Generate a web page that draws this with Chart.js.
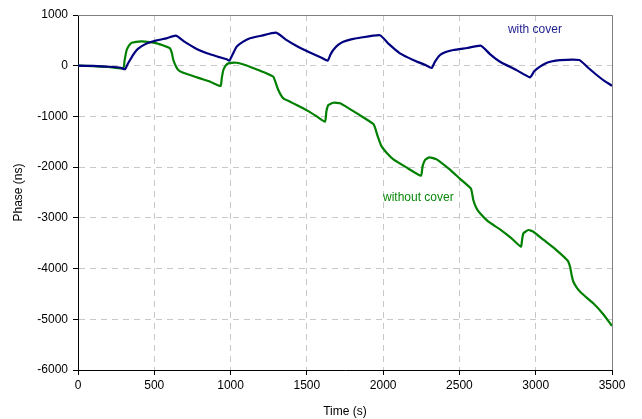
<!DOCTYPE html>
<html>
<head>
<meta charset="utf-8">
<script src="https://cdn.jsdelivr.net/npm/chart.js@4/dist/chart.umd.min.js"></script>
<style>
  html, body { margin: 0; padding: 0; background: #fff; }
  #wrap { width: 642px; height: 419px; }
</style>
</head>
<body>
<div id="wrap"><canvas id="c" width="642" height="419"></canvas></div>
<script>
// Phase drift over time, sensor with and without cover
const timeWith = [0,100,210,280,308,325,341,360,385,415,450,516,580,642,700,778,850,920,975,992,1010,1040,1080,1127,1200,1298,1360,1433,1520,1600,1636,1655,1673,1705,1739,1790,1848,1979,2040,2110,2200,2280,2318,2340,2373,2410,2460,2550,2641,2700,2766,2870,2963,2990,3028,3060,3094,3159,3286,3340,3400,3450,3500];
const phaseWith = [0,-5,-20,-40,-70,30,112,210,310,380,440,500,540,592,470,330,240,175,126,99,200,375,470,540,590,651,520,390,260,150,99,220,310,410,473,520,552,600,420,244,110,10,-45,80,211,270,310,350,394,230,79,-80,-229,-110,-20,40,79,112,112,-30,-183,-300,-394];

const timeWithout = [0,100,200,297,305,319,335,352,417,470,516,560,603,615,625,640,657,690,734,800,870,935,942,953,970,986,1040,1100,1160,1220,1280,1295,1313,1330,1346,1390,1433,1500,1560,1619,1628,1641,1674,1718,1780,1850,1936,1950,1958,1975,1991,2030,2067,2150,2248,2258,2274,2303,2351,2430,2504,2575,2582,2591,2610,2635,2690,2766,2840,2903,2910,2919,2952,2985,3050,3130,3210,3225,3235,3247,3270,3301,3377,3440,3500];
const phaseWithout = [0,-10,-25,-51,100,310,400,454,480,465,440,400,343,250,112,0,-85,-140,-183,-250,-320,-400,-250,-85,10,47,59,10,-60,-130,-217,-330,-479,-580,-643,-710,-775,-880,-990,-1104,-900,-775,-730,-742,-850,-980,-1150,-1250,-1333,-1480,-1597,-1740,-1846,-2000,-2169,-1990,-1860,-1807,-1846,-2030,-2230,-2420,-2500,-2648,-2800,-2911,-3076,-3226,-3400,-3569,-3450,-3305,-3240,-3273,-3430,-3620,-3845,-3964,-4120,-4260,-4380,-4488,-4685,-4890,-5130];

const xTicks = [0,500,1000,1500,2000,2500,3000,3500];
const yTicks = [1000,0,-1000,-2000,-3000,-4000,-5000,-6000];

const seriesNames = ['with cover', 'without cover'];
const seriesColors = ['#000080', '#008000'];
const labelColors = ['#1c1c8e', '#0a8a0a'];
// Anchor of each in-plot label, in data units (time, phase)
const labelTime = [2818, 1999];
const labelPhase = [704, -2609];

const toPoints = (xs, ys) => xs.map((x, i) => ({ x: x, y: ys[i] }));

const FONT = "'Liberation Sans', Arial, sans-serif";

// Grey frame on the top and right of the plot area
const framePlugin = {
  id: 'frame',
  afterDraw(chart) {
    const { ctx, chartArea: a } = chart;
    ctx.save();
    ctx.strokeStyle = '#808080';
    ctx.lineWidth = 1;
    ctx.beginPath();
    ctx.moveTo(a.left, a.top + 0.5);
    ctx.lineTo(a.right + 0.5, a.top + 0.5);
    ctx.lineTo(a.right + 0.5, a.bottom);
    ctx.stroke();
    ctx.restore();
  }
};

// Series names written next to their curves
const seriesLabelPlugin = {
  id: 'seriesLabels',
  afterDatasetsDraw(chart) {
    const { ctx, scales } = chart;
    ctx.save();
    ctx.font = '12px ' + FONT;
    ctx.textBaseline = 'middle';
    ctx.textAlign = 'left';
    seriesNames.forEach((name, i) => {
      ctx.fillStyle = labelColors[i];
      ctx.fillText(name, scales.x.getPixelForValue(labelTime[i]), scales.y.getPixelForValue(labelPhase[i]));
    });
    ctx.restore();
  }
};

const plainNumber = v => String(v);

new Chart(document.getElementById('c'), {
  type: 'line',
  data: {
    datasets: [
      { label: seriesNames[0], data: toPoints(timeWith, phaseWith), borderColor: seriesColors[0], borderWidth: 2.2, pointRadius: 0, tension: 0.15, fill: false },
      { label: seriesNames[1], data: toPoints(timeWithout, phaseWithout), borderColor: seriesColors[1], borderWidth: 2.2, pointRadius: 0, tension: 0.15, fill: false }
    ]
  },
  options: {
    responsive: false,
    animation: false,
    devicePixelRatio: 1,
    layout: { padding: { top: 15, right: 30, left: 0, bottom: 0 } },
    plugins: { legend: { display: false }, tooltip: { enabled: false } },
    scales: {
      x: {
        type: 'linear',
        min: 0, max: 3500,
        afterBuildTicks(s) { s.ticks = xTicks.map(v => ({ value: v })); },
        afterFit(s) { s.height = 49; },
        ticks: { color: '#000', font: { size: 12, family: FONT }, padding: 3, maxRotation: 0, callback: plainNumber },
        grid: { color: '#c8c8c8', tickColor: '#000', tickLength: 5, lineWidth: 1 },
        border: { color: '#000', width: 1, dash: [6, 5] },
        title: { display: true, text: 'Time (s)', color: '#000', font: { size: 12, family: FONT }, padding: { top: 4, bottom: 0 } }
      },
      y: {
        type: 'linear',
        min: -6000, max: 1000,
        afterBuildTicks(s) { s.ticks = yTicks.map(v => ({ value: v })); },
        afterFit(s) { s.width = 78; },
        ticks: { color: '#000', font: { size: 12, family: FONT }, padding: 5, callback: plainNumber },
        grid: { color: '#c8c8c8', tickColor: '#000', tickLength: 5, lineWidth: 1 },
        border: { color: '#000', width: 1, dash: [6, 5] },
        title: { display: true, text: 'Phase (ns)', color: '#000', font: { size: 12, family: FONT }, padding: { top: 11, bottom: 0 } }
      }
    }
  },
  plugins: [framePlugin, seriesLabelPlugin]
});
</script>
</body>
</html>
